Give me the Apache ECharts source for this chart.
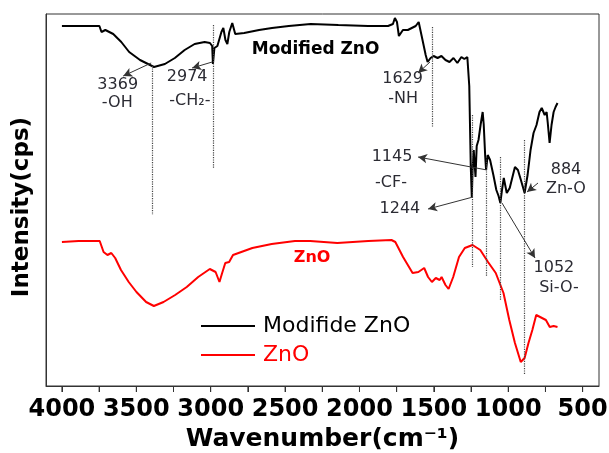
<!DOCTYPE html>
<html>
<head>
<meta charset="utf-8">
<script src="https://cdn.jsdelivr.net/npm/echarts/dist/echarts.min.js"></script>
<style>
html,body{margin:0;padding:0;background:#fff;}
#c{width:609px;height:453px;}
</style>
</head>
<body>
<div id="c"></div>
<script>
// ---- data ----
const blackWn = [4000, 3748, 3734, 3708, 3655, 3601, 3548, 3475, 3381, 3308, 3241, 3175, 3108, 3041, 3005, 2990, 2985, 2975, 2955, 2928, 2915, 2901, 2888, 2875, 2855, 2848, 2835, 2775, 2675, 2588, 2475, 2328, 2142, 1942, 1808, 1775, 1762, 1748, 1735, 1708, 1675, 1622, 1602, 1582, 1555, 1542, 1522, 1502, 1475, 1449, 1422, 1395, 1368, 1342, 1315, 1295, 1275, 1262, 1252, 1245, 1240, 1232, 1226, 1220, 1212, 1200, 1185, 1172, 1165, 1155, 1149, 1138, 1122, 1100, 1080, 1065, 1053, 1042, 1030, 1010, 990, 955, 935, 915, 890, 870, 850, 830, 810, 790, 775, 755, 742, 735, 722, 709, 695, 682, 669];
const blackI = [360, 360, 354, 356, 352, 344, 334, 326, 319, 322, 328, 336, 342, 344, 343, 340, 322, 338, 340, 354, 358, 346, 342, 354, 363, 364, 352, 353, 356, 358, 360, 362, 361, 360, 360, 362, 368, 364, 350, 356, 356, 360, 364, 350, 331, 324, 328, 330, 328, 330, 326, 324, 328, 323, 329, 327, 329, 300, 220, 189, 215, 236, 222, 209, 240, 246, 262, 274, 262, 230, 216, 231, 226, 211, 196, 190, 183, 196, 208, 193, 198, 219, 216, 206, 193, 211, 236, 253, 261, 274, 278, 271, 274, 264, 243, 261, 274, 279, 283];
const redWn = [4000, 3888, 3746, 3720, 3694, 3668, 3642, 3603, 3551, 3499, 3434, 3382, 3317, 3239, 3161, 3084, 3006, 2967, 2941, 2923, 2902, 2876, 2850, 2720, 2590, 2434, 2331, 2149, 1941, 1785, 1759, 1707, 1643, 1604, 1565, 1539, 1513, 1487, 1461, 1448, 1422, 1401, 1370, 1331, 1292, 1240, 1188, 1136, 1084, 1032, 993, 955, 916, 890, 864, 838, 812, 786, 747, 721, 695, 669];
const redI = [144, 145, 145, 134, 131, 133, 128, 116, 104, 94, 84, 80, 84, 91, 99, 109, 117, 114, 104, 113, 123, 124, 131, 138, 142, 145, 145, 143, 145, 146, 144, 129, 113, 114, 118, 109, 104, 108, 106, 109, 101, 97, 109, 129, 138, 141, 136, 124, 113, 93, 66, 43, 24, 28, 43, 56, 71, 69, 66, 59, 60, 59];
const seriesNames = ['Modifide ZnO', 'ZnO'];
const tickLabels = [4000, 3500, 3000, 2500, 2000, 1500, 1000, 500];
const tickMarks = [4000, 3750, 3500, 3250, 3000, 2750, 2500, 2250, 2000, 1750, 1500, 1250, 1000, 750, 500];
// dotted guide lines: wavenumber, from / to intensity
const guideWn = [3395, 2985, 1508, 1245, 1149, 1053, 890];
const guideFrom = [320, 361, 359, 271, 229, 229, 246];
const guideTo = [171, 218, 259, 119, 109, 86, 11];
// arrows: start -> end (arrow head at end)
const arrowFrom = [[3400, 323], [2990, 324], [1526, 324], [1143, 216], [1237, 189], [800, 203], [1042, 183]];
const arrowTo = [[3588, 310], [3125, 318], [1606, 313], [1606, 229], [1539, 177], [874, 194], [820, 128]];
// annotation texts and anchors
const annoText = ['3369', '-OH', '2974', '-CH\u2082-', '1629', '-NH', '1145', '-CF-', '1244', '884', 'Zn-O', '1052', 'Si-O-'];
const annoWn = [3625, 3628, 3158, 3140, 1710, 1707, 1781, 1788, 1728, 612, 612, 693, 659];
const annoI = [301, 283, 309, 285, 307, 287, 229, 203, 177, 216, 197, 118, 98];
const titleText = ['Modified ZnO', 'ZnO'];
const titleWn = [2295, 2318];
const titleI = [336, 128];

const FONT = 'DejaVu Sans';
const zip = (a, b) => a.map((v, i) => [v, b[i]]);

const chart = echarts.init(document.getElementById('c'));
const option = {
  animation: false,
  backgroundColor: '#fff',
  grid: { left: 46, right: 10, top: 14, bottom: 67, show: true, borderColor: '#333', borderWidth: 1, outerBoundsMode: 'none' },
  legend: {
    data: [{ name: seriesNames[0], textStyle: { color: '#000' } }, { name: seriesNames[1], textStyle: { color: '#ff0000' } }],
    orient: 'vertical', left: 196, top: 310, padding: 5,
    icon: 'rect', itemWidth: 54, itemHeight: 2, itemGap: 7,
    textStyle: { fontFamily: FONT, fontSize: 22, lineHeight: 21, padding: [0, 0, 0, 3] }
  },
  xAxis: {
    type: 'value', inverse: true, min: 390, max: 4107,
    name: 'Wavenumber(cm\u207B\u00B9)', nameLocation: 'middle', nameGap: 39,
    nameTextStyle: { fontFamily: FONT, fontSize: 25, fontWeight: 'bold', color: '#000' },
    axisLine: { show: true, onZero: false, lineStyle: { color: '#333', width: 1 } },
    axisTick: { show: true, inside: false, length: 6, customValues: tickMarks, lineStyle: { color: '#333' } },
    axisLabel: { customValues: tickLabels, formatter: v => String(v), hideOverlap: false, showMinLabel: true, showMaxLabel: true,
      fontFamily: FONT, fontSize: 24, fontWeight: 'bold', color: '#000', margin: 12 },
    splitLine: { show: false }
  },
  yAxis: {
    type: 'value', min: 0, max: 372,
    name: 'Intensity(cps)', nameLocation: 'middle', nameGap: 12,
    nameTextStyle: { fontFamily: FONT, fontSize: 23, fontWeight: 'bold', color: '#000', padding: [0, 14, 0, 0] },
    axisLine: { show: true, lineStyle: { color: '#333' } },
    axisTick: { show: false }, axisLabel: { show: false }, splitLine: { show: false }
  },
  series: [
    { name: seriesNames[0], type: 'line', data: zip(blackWn, blackI), showSymbol: false, lineStyle: { color: '#000', width: 2 }, itemStyle: { color: '#000' } },
    { name: seriesNames[1], type: 'line', data: zip(redWn, redI), showSymbol: false, lineStyle: { color: '#ff0000', width: 2 }, itemStyle: { color: '#ff0000' } },
    { name: 'guides', type: 'line', data: [], silent: true,
      markLine: { silent: true, symbol: ['none', 'none'], label: { show: false },
        lineStyle: { color: '#444', type: 'dotted', width: 1.2 },
        data: guideWn.map((w, i) => [{ coord: [w, guideFrom[i]] }, { coord: [w, guideTo[i]] }]) } },
    { name: 'arrows', type: 'line', data: [], silent: true,
      markLine: { silent: true, symbol: ['none', 'arrow'], symbolSize: [7, 9], label: { show: false },
        lineStyle: { color: '#333', type: 'solid', width: 1 },
        data: arrowFrom.map((p, i) => [{ coord: p }, { coord: arrowTo[i] }]) } },
    { name: 'ticks', type: 'custom', silent: true, clip: false, z: 5,
      data: tickMarks.map(v => [v, 0]),
      renderItem: (params, api) => {
        const p = api.coord([api.value(0), 0]);
        return { type: 'line', shape: { x1: p[0], y1: p[1], x2: p[0], y2: p[1] + 6 }, style: { stroke: '#333', lineWidth: 1 } };
      } }
  ]
};
chart.setOption(option);

const graphics = [];
annoText.forEach((t, i) => {
  const p = chart.convertToPixel({ gridIndex: 0 }, [annoWn[i], annoI[i]]);
  graphics.push({ type: 'text', x: p[0], y: p[1], silent: true,
    style: { text: t, align: 'center', verticalAlign: 'middle', fontFamily: FONT, fontSize: 16, fill: '#2b2b33' } });
});
titleText.forEach((t, i) => {
  const p = chart.convertToPixel({ gridIndex: 0 }, [titleWn[i], titleI[i]]);
  graphics.push({ type: 'text', x: p[0], y: p[1], silent: true,
    style: { text: t, align: 'center', verticalAlign: 'middle', fontFamily: FONT, fontSize: i === 0 ? 17 : 16, fontWeight: 'bold', fill: i === 0 ? '#000' : '#ff0000' } });
});
chart.setOption({ graphic: graphics });
</script>
</body>
</html>
